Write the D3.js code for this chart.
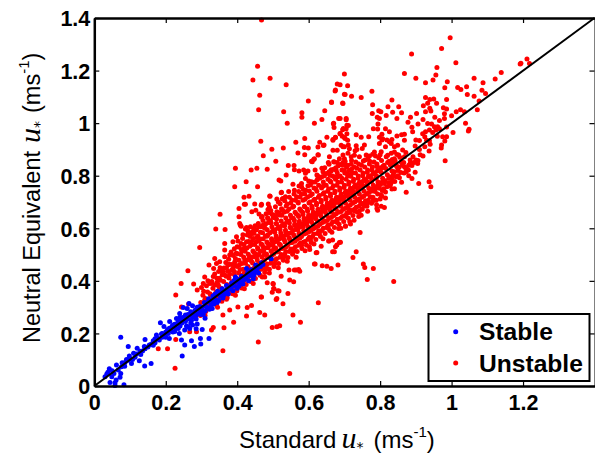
<!DOCTYPE html>
<html>
<head>
<meta charset="utf-8">
<script src="https://d3js.org/d3.v7.min.js"></script>
<style>
body{margin:0;background:#fff;}
text{font-family:"Liberation Sans",Arial,sans-serif;}
.tick text{font-weight:bold;font-size:21.5px;fill:#000;}
</style>
</head>
<body>
<script>
var xTicks = [0,0.2,0.4,0.6,0.8,1,1.2];
var yTicks = [0,0.2,0.4,0.6,0.8,1,1.2,1.4];
var oneToOne = [0,1.4];
var legendNames = ["Stable","Unstable"];

// scattered points, above the line
var unstableUpper = [
[.468,1.392],[.457,1.216],[.444,1.164],[.492,1.171],[.537,1.146],[.463,1.106],[.460,1.051],[.530,1.043],[.581,1.040],[.581,1.022],[.540,1.000],[.599,1.084],[.645,1.047],[.637,1.014],[.616,1.000],[.664,1.080],[.680,1.149],[.675,1.126],[.670,1.000],[.684,1.018],[.671,.983],[.466,.931],[.589,.942],[.564,.927],[.529,.905],[.497,.901],[.599,.905],[.631,.927],[.626,.909],[.643,.917],[.651,.946],[.668,.938],[.675,.946],[.570,.886],[.589,.880],[.473,.876],[.508,.855],[.626,.880],[.614,.862],[.608,.855],[.658,.872],[.670,.853],[.657,.844],[.543,.839],[.559,.839],[.560,.823],[.395,.828],[.439,.822],[.455,.828],[.484,.825],[.573,.818],[.586,.822],[.598,.818],[.591,.809],[.618,.822],[.637,.828],[.640,.815],[.537,.803],[.517,.784],[.522,.780],[.591,.789],[.623,.803],[.393,.758],[.425,.777],[.457,.758],[.556,.768],[.573,.761],[.580,.758],[.607,.777],[.419,.718],[.433,.722],[.492,.722],[.511,.711],[.524,.737],[.526,.711],[.544,.740],
[.996,1.325],[.888,1.263],[.972,1.284],[1.012,1.230],[.959,1.212],[.868,1.189],[.900,1.171],[.956,1.183],[.948,1.164],[.927,1.154],[.988,1.157],[1.063,1.171],[1.088,1.154],[1.122,1.168],[1.139,1.193],[1.192,1.225],[1.194,1.228],[1.211,1.244],[.981,1.135],[1.017,1.136],[1.026,1.128],[1.042,1.138],[1.085,1.125],[1.095,1.113],[1.044,1.109],[1.063,1.102],[.927,1.098],[.939,1.090],[.950,1.092],[.986,1.090],[.958,1.076],[1.077,1.084],[.921,1.066],[.933,1.076],[.939,1.057],[.942,1.046],[.977,1.059],[.986,1.054],[1.013,1.043],[1.025,1.051],[1.036,1.043],[1.000,1.028],[.980,1.036],[.927,1.043],[.902,1.037],[.885,1.022],[.920,1.014],[.953,1.022],[.980,1.018],[.878,1.003],[.906,.997],[.944,.997],[.966,1.010],[.933,.999],[.961,.986],[.927,.967],[.938,.974],[.891,.967],[.956,.974],[.947,.964],[.889,.984],[.868,.958],[.847,.951],[.860,.956],[.910,.934],[.925,.948],[.900,.936],[.898,.913],[.910,.900],
[.700,1.187],[.688,1.146],[.709,1.142],[.777,1.121],[.702,1.109],[.720,1.102],[.747,1.098],[.833,1.088],[.696,1.075],[.779,1.070],[.822,1.062],[.852,1.062],[.796,1.047],[.802,1.043],[.835,1.041],[.860,1.040],[.778,1.037],[.817,1.029],[.792,1.022],[.798,1.018],[.847,1.018],[.705,1.018],[.688,1.018],[.794,.997],[.711,.991],[.697,.980],[.781,.979],[.793,.978],[.815,.979],[.826,.967],[.733,.956],[.747,.946],[.768,.948],[.688,.961],[.702,.942],[.805,.958],[.798,.946],[.805,.936],[.819,.936],[.833,.938],[.798,.923],[.815,.910],[.831,.923],[.840,.910],[.863,.898],[.711,.917],[.733,.914],[.756,.917],[.750,.904],[.735,.900],[.696,.910],[.803,.891],[.779,.882],[.831,.885],[.852,.879],[.868,.872],[.696,.879],[.719,.872],[.761,.879],[.742,.872],
[.352,.653],[.420,.691],[.449,.692],[.468,.691],[.405,.675],[.405,.644],[.340,.597],[.366,.595],[.295,.527],[.262,.438],[.243,.390],[.228,.346],[.278,.388],[.244,.301],[.264,.312],[.365,.542],[.365,.517],[.337,.485],[.321,.460],[.334,.447],[.305,.390],[.309,.415],[.288,.365],[.300,.375],[.323,.390],[.337,.426],[.356,.438],[.342,.466],[.351,.473],[.388,.549],[.409,.612],[.426,.603],[.452,.669],[.442,.580],[.398,.568],[.426,.549],[.412,.517],[.379,.498],[.365,.492],[.374,.460],[.365,.422],
[.423,.691],[.467,.688],[.487,.692],[.491,.723],[.523,.735],[.528,.713],[.486,.671],[.491,.659],[.441,.663],[.461,.654],[.407,.618],[.411,.608],[.437,.606],[.423,.597],[.472,.612],[.486,.637],[.502,.650],[.518,.659],[.509,.618],
[.674,1.122],[.700,1.110],[.664,1.079],[.695,1.077],[.705,1.013],[.669,.998],[.705,.979],[.695,.975],[.688,.960],[.707,.960],[.700,.945],[.675,.945],[.668,.935],[.691,.916],[.700,.910],[.709,.935],[.668,.897],[.680,.897],[.686,.865],[.700,.865],[.672,.852],[.696,.840],[.709,.840],[.663,.823],[.677,.821],[.660,.802],[.672,.795],[.709,.808],[.610,.853],[.616,.865],[.627,.879],[.641,.915],[.588,.907],
[.707,.992],[.694,.950],[.714,.903],[.728,.878],[.784,.890],[.821,.878],[.840,.865],[.849,.916],[.826,.929],[.807,.941],[.868,.935],[.919,.960],[.930,.935],[.952,.986],[.966,.979],[.975,.948]
];

// scattered points, below the line
var unstableLower = [
[1.218,1.227],[1.072,1.051],[1.039,1.000],[1.049,.977],[1.047,.970],[1.004,.964],[.986,.985],[.986,.948],[.981,.932],[.972,.917],[.971,.905],[.938,.933],[.937,.894],[.982,.857],[.906,.858],[.905,.846],[.889,.839],[.884,.846],[.898,.813],[.889,.789],[.908,.770],[.937,.777],[.942,.758],[.873,.737],[.833,.749],[.805,.722],[.800,.711],[.873,.815],[.868,.834],[.847,.834],[.834,.792],[.824,.773],[.791,.675],[.812,.679],[.775,.745],[.761,.694],[.742,.707],
[.744,.584],[.733,.511],[.724,.489],[.753,.464],[.757,.451],[.781,.447],[.764,.405],[.838,.398],[.689,.547],[.703,.608],[.717,.616],[.727,.631],[.742,.666],[.747,.650],[.714,.669],[.793,.669],[.803,.684],[.765,.697],[.751,.692],
[.360,.134],[.547,.048],[.226,.068],[.459,.167],[.577,.243],[.498,.223],[.511,.225],[.519,.229],[.627,.317],[.556,.270],[.477,.270],[.463,.280],[.426,.266],[.390,.243],[.363,.222],[.333,.223],[.328,.213],[.286,.206],[.267,.206],[.228,.177],[.205,.142],[.179,.142],[.402,.301],[.428,.299],[.440,.306],[.468,.339],[.379,.289],[.360,.270],[.528,.313],[.509,.329],[.514,.362],[.502,.371],[.500,.390],[.542,.352],[.565,.441],[.575,.437],[.547,.403],[.558,.397],[.618,.464],[.638,.457],[.663,.447],[.682,.460],[.603,.519],[.621,.507],[.657,.552],[.672,.511],[.679,.536],
[.703,.609],[.684,.599],[.686,.546],[.667,.555],[.656,.552],[.675,.530],[.667,.511],[.635,.532],[.623,.508],[.602,.530],[.616,.464],[.651,.456],[.572,.443],[.560,.441],[.545,.441],[.523,.418],[.501,.388],[.484,.393],[.477,.415],[.503,.370],[.517,.361],[.498,.357],[.467,.339],[.511,.333]
];

// the solid red cloud round the line, read strip by strip
var unstableCore = [
[.297,.268],[.302,.292],[.298,.318],[.304,.345],[.312,.283],[.316,.307],[.311,.333],[.317,.358],[.314,.381],
[.327,.296],[.331,.321],[.326,.346],[.332,.372],[.329,.398],[.333,.417],[.342,.309],[.346,.334],[.341,.358],[.347,.384],[.343,.41],[.348,.436],
[.357,.322],[.361,.347],[.356,.371],[.362,.398],[.358,.423],[.363,.449],[.372,.336],[.376,.361],[.371,.386],[.377,.411],[.373,.437],[.378,.463],[.376,.482],
[.387,.351],[.391,.374],[.386,.398],[.392,.424],[.388,.447],[.393,.472],[.389,.496],[.392,.522],
[.399,.362],[.403,.384],[.398,.41],[.404,.431],[.4,.455],[.405,.478],[.401,.503],[.406,.528],[.402,.552],
[.412,.373],[.416,.397],[.411,.42],[.417,.444],[.413,.466],[.418,.491],[.414,.514],[.419,.538],[.415,.561],
[.425,.386],[.429,.408],[.424,.432],[.43,.455],[.426,.479],[.431,.501],[.427,.525],[.432,.55],[.428,.574],
[.438,.398],[.442,.421],[.437,.444],[.443,.468],[.439,.491],[.444,.514],[.44,.537],[.445,.561],[.441,.585],[.446,.598],
[.451,.409],[.455,.433],[.45,.456],[.456,.479],[.452,.502],[.457,.526],[.453,.549],[.458,.571],[.454,.594],[.459,.618],
[.464,.421],[.468,.444],[.463,.467],[.469,.491],[.465,.513],[.47,.537],[.466,.559],[.471,.583],[.467,.606],[.472,.63],[.468,.642],
[.477,.432],[.481,.456],[.476,.479],[.482,.502],[.478,.525],[.483,.548],[.479,.571],[.484,.594],[.48,.617],[.485,.64],[.481,.655],
[.49,.444],[.494,.467],[.489,.49],[.495,.513],[.491,.537],[.496,.56],[.492,.583],[.497,.606],[.493,.629],[.498,.652],[.494,.668],
[.503,.455],[.507,.479],[.502,.502],[.508,.525],[.504,.548],[.509,.571],[.505,.594],[.51,.617],[.506,.64],[.511,.663],[.507,.682],
[.516,.466],[.52,.49],[.515,.513],[.521,.536],[.517,.559],[.522,.582],[.518,.605],[.523,.628],[.519,.651],[.524,.674],[.52,.693],
[.529,.478],[.533,.501],[.528,.524],[.534,.548],[.53,.57],[.535,.593],[.531,.616],[.536,.639],[.532,.662],[.537,.685],[.533,.705],
[.542,.489],[.546,.512],[.541,.535],[.547,.558],[.543,.581],[.548,.604],[.544,.627],[.549,.65],[.545,.673],[.55,.696],[.546,.718],
[.555,.501],[.559,.523],[.554,.546],[.56,.57],[.556,.592],[.561,.615],[.557,.638],[.562,.661],[.558,.684],[.563,.707],[.559,.73],
[.568,.512],[.572,.535],[.567,.558],[.573,.581],[.569,.604],[.574,.627],[.57,.65],[.575,.673],[.571,.696],[.576,.719],[.572,.74],
[.581,.523],[.585,.547],[.58,.569],[.586,.592],[.582,.615],[.587,.638],[.583,.661],[.588,.684],[.584,.707],[.589,.73],[.585,.748],
[.594,.535],[.598,.558],[.593,.581],[.599,.604],[.595,.627],[.6,.65],[.596,.673],[.601,.696],[.597,.719],[.602,.742],[.598,.762],
[.607,.546],[.611,.569],[.606,.592],[.612,.615],[.608,.638],[.613,.661],[.609,.684],[.614,.707],[.61,.73],[.615,.753],[.611,.775],
[.62,.557],[.624,.58],[.619,.603],[.625,.627],[.621,.649],[.626,.672],[.622,.695],[.627,.718],[.623,.741],[.628,.764],[.624,.785],
[.633,.569],[.637,.592],[.632,.615],[.638,.638],[.634,.661],[.639,.684],[.635,.707],[.64,.73],[.636,.753],[.641,.776],[.637,.796],
[.646,.58],[.65,.603],[.645,.626],[.651,.649],[.647,.672],[.652,.695],[.648,.718],[.653,.741],[.649,.764],[.654,.787],[.65,.808],
[.659,.592],[.663,.615],[.658,.638],[.664,.661],[.66,.684],[.665,.707],[.661,.73],[.666,.753],[.662,.776],[.667,.799],[.663,.818],
[.672,.603],[.676,.626],[.671,.649],[.677,.672],[.673,.695],[.678,.718],[.674,.741],[.679,.764],[.675,.787],[.68,.81],[.676,.83],
[.685,.615],[.689,.638],[.684,.661],[.69,.684],[.686,.707],[.691,.73],[.687,.753],[.692,.776],[.688,.799],[.693,.822],[.689,.843],
[.698,.626],[.702,.649],[.697,.672],[.703,.695],[.699,.718],[.704,.741],[.7,.764],[.705,.787],[.701,.81],[.706,.833],[.702,.855],
[.711,.638],[.715,.66],[.71,.683],[.716,.707],[.712,.729],[.717,.752],[.713,.775],[.718,.798],[.714,.821],[.719,.844],
[.724,.649],[.728,.672],[.723,.695],[.729,.718],[.725,.741],[.73,.764],[.726,.787],[.731,.81],[.727,.833],[.732,.852],
[.737,.661],[.741,.684],[.736,.707],[.742,.73],[.738,.753],[.743,.776],[.739,.799],[.744,.822],[.74,.845],
[.75,.672],[.754,.695],[.749,.718],[.755,.741],[.751,.764],[.756,.787],[.752,.81],[.757,.833],[.753,.856],
[.763,.684],[.767,.707],[.762,.73],[.768,.753],[.764,.776],[.769,.799],[.765,.822],[.77,.845],[.766,.865],
[.776,.695],[.78,.718],[.775,.741],[.781,.764],[.777,.787],[.782,.81],[.778,.833],[.783,.852],
[.789,.707],[.793,.73],[.788,.753],[.794,.776],[.79,.799],[.795,.822],[.791,.845],[.796,.868],
[.802,.728],[.806,.744],[.801,.767],[.807,.79],[.803,.813],[.808,.836],[.804,.858],
[.815,.738],[.819,.758],[.814,.781],[.82,.804],[.816,.827],[.821,.85],[.817,.872],
[.828,.762],[.832,.777],[.827,.796],[.833,.818],[.829,.84],[.834,.862],
[.841,.778],[.845,.796],[.84,.815],[.846,.838],[.842,.857],[.847,.881],
[.854,.792],[.858,.812],[.853,.832],[.859,.852],[.855,.87],
[.867,.81],[.871,.83],[.866,.85],[.872,.888],[.88,.84],[.884,.86],[.879,.822],[.892,.872],[.9,.86],[.912,.88],[.925,.91]
];

// second pass over the cloud, filling the gaps the first pass left
var unstableFill = [
[.305,.282],[.309,.327],[.322,.302],[.324,.351],[.336,.315],[.339,.384],[.351,.33],[.353,.402],[.366,.343],[.369,.418],[.381,.358],[.384,.44],[.383,.381],[.396,.372],[.394,.459],[.397,.505],[.409,.392],[.408,.443],[.411,.542],[.421,.404],[.423,.467],[.422,.513],[.434,.418],[.436,.479],[.435,.532],[.436,.569],
[.447,.426],[.448,.492],[.449,.538],[.447,.581],[.459,.44],[.461,.5],[.46,.552],[.462,.606],[.472,.45],[.474,.514],[.473,.56],[.476,.602],[.484,.464],[.487,.526],[.486,.575],[.488,.622],[.496,.478],[.5,.535],[.499,.59],[.501,.641],
[.51,.484],[.512,.55],[.513,.6],[.514,.652],[.523,.5],[.526,.562],[.525,.611],[.527,.67],[.536,.512],[.538,.575],[.539,.625],[.54,.692],[.55,.521],[.551,.583],[.552,.64],[.553,.708],[.563,.53],[.564,.595],[.565,.655],[.566,.72],
[.576,.543],[.577,.606],[.578,.668],[.579,.73],[.59,.55],[.591,.617],[.589,.682],[.592,.745],[.602,.566],[.603,.63],[.604,.7],[.605,.765],[.614,.578],[.616,.642],[.617,.71],[.618,.776],[.628,.59],[.629,.655],[.63,.725],[.631,.79],
[.641,.6],[.642,.668],[.643,.735],[.644,.8],[.654,.612],[.655,.678],[.656,.75],[.657,.815],[.667,.624],[.668,.69],[.669,.762],[.67,.825],[.68,.634],[.681,.702],[.682,.775],[.683,.838],[.694,.645],[.695,.715],[.693,.79],[.696,.85],
[.707,.658],[.708,.728],[.709,.8],[.705,.84],[.72,.668],[.721,.74],[.722,.81],[.72,.858],[.733,.68],[.734,.755],[.735,.828],[.746,.695],[.747,.765],[.748,.84],[.759,.705],[.76,.782],[.758,.86],[.772,.72],[.773,.795],[.771,.855],[.786,.74],[.785,.81],[.787,.875],[.798,.752],[.799,.83],[.812,.77],[.811,.84],[.824,.79],[.825,.855],[.837,.805],[.836,.85],[.85,.82],[.862,.84],
[.306,.36],[.318,.4],[.33,.39],[.344,.395],[.352,.45],[.368,.47],[.383,.51],[.4,.53],[.416,.575],[.432,.575],[.43,.59],[.45,.61],[.47,.645],[.49,.68],[.515,.7],[.535,.72],[.56,.745],[.58,.77],[.6,.78],[.625,.8],[.645,.83],[.655,.85],[.68,.85],[.71,.885],[.73,.895],[.77,.875],[.8,.88],[.84,.89],
[.31,.268],[.345,.3],[.37,.33],[.395,.345],[.42,.37],[.445,.39],[.47,.415],[.49,.43],[.515,.45],[.54,.475],[.565,.49],[.59,.515],[.615,.54],[.64,.56],[.665,.585],[.69,.6],[.715,.625],[.74,.645],[.765,.665],[.79,.69],[.815,.715],[.84,.75],[.86,.775],[.88,.8]
];

// third pass, the thickest part of the cloud just above the line
var unstableThick = [
[.335,.331],[.349,.378],[.364,.362],[.379,.425],[.394,.389],[.392,.436],[.407,.407],[.406,.461],[.419,.429],[.421,.479],[.433,.437],[.434,.492],[.446,.447],[.447,.508],[.46,.466],[.458,.521],[.471,.472],[.473,.528],[.485,.49],[.486,.541],[.498,.498],[.497,.553],[.511,.51],[.509,.563],[.524,.523],[.523,.571],[.537,.53],[.536,.584],[.549,.545],[.55,.601],[.562,.551],[.561,.611],[.575,.562],[.573,.618],[.587,.578],[.588,.629],[.6,.586],[.599,.641],[.613,.598],[.611,.652],[.626,.608],[.624,.66],[.639,.622],[.637,.678],[.652,.63],[.65,.685],[.664,.642],[.662,.699],[.677,.655],[.676,.711],[.691,.664],[.689,.722],[.703,.676],[.702,.735],[.716,.688],[.714,.744],[.729,.7],[.728,.758],[.741,.711],[.74,.77],[.754,.722],[.753,.78],[.768,.736],[.766,.795],[.78,.75],[.779,.806],[.793,.762],[.792,.818],[.805,.775],[.806,.83],
[.44,.475],[.455,.495],[.467,.54],[.476,.5],[.483,.57],[.502,.521],[.505,.585],[.518,.54],[.52,.595],[.532,.555],[.533,.61],[.545,.565],[.546,.62],[.558,.575],[.56,.63],[.57,.595],[.572,.645],[.585,.607],[.584,.652],[.595,.618],[.597,.665],[.608,.625],[.61,.675],[.62,.636],[.622,.69],[.634,.648],[.635,.7],[.647,.66],[.648,.71],[.66,.67],[.661,.722],[.672,.68],[.673,.735],[.686,.695],[.687,.745],[.698,.705],[.699,.755],[.711,.72],[.712,.768],[.724,.73],[.725,.778],[.737,.74],[.738,.79],[.75,.755],[.751,.8],[.763,.765],[.764,.812],[.776,.778],[.777,.822],[.789,.79],[.79,.835],
[.48,.445],[.505,.465],[.53,.49],[.556,.512],[.58,.535],[.605,.556],[.63,.58],[.655,.6],[.68,.622],[.705,.645],[.73,.665],[.755,.685],[.78,.705],[.81,.75],[.83,.77],[.85,.8],[.875,.825],[.895,.85],[.92,.875],[.94,.92],[.96,.95],
[.35,.41],[.36,.435],[.37,.45],[.385,.462],[.395,.485],[.41,.5],[.42,.525],[.44,.55],[.455,.565],[.465,.585],[.478,.6],[.495,.62],[.51,.635],[.525,.65],[.54,.665],[.555,.68],[.57,.7],[.59,.71],[.605,.725],[.62,.75],[.64,.76],[.66,.78],[.68,.795],[.7,.82],[.72,.825]
];

// stable points, all hugging the line
var stable = [
[.074,.185],[.058,.002],[.058,.012],[.083,.005],[.044,.013],[.030,.035],[.035,.046],[.042,.066],[.049,.035],[.055,.048],[.067,.061],[.074,.048],[.072,.033],[.061,.023],[.062,.080],[.076,.073],[.086,.089],[.090,.101],[.098,.114],[.095,.150],[.107,.101],[.104,.086],[.114,.109],[.126,.096],[.141,.076],[.159,.086],[.120,.144],[.135,.133],[.142,.142],[.142,.177],[.154,.156],[.160,.160],[.170,.165],[.174,.194],[.179,.181],[.188,.198],[.198,.190],[.185,.241],[.195,.226],[.211,.245],[.221,.232],[.207,.200],[.210,.181],[.246,.114],[.244,.175],[.253,.156],[.272,.172],[.280,.150],[.297,.181],[.298,.160],[.321,.181],[.302,.215],[.288,.236],[.249,.299],[.265,.314],[.260,.295],[.239,.276],[.230,.257],[.244,.251],[.267,.270],[.267,.219],[.253,.213],[.235,.219],[.225,.207],
[.495,.484],[.468,.469],[.452,.460],[.447,.422],[.426,.447],[.395,.415],
[.038,.052],[.05,.058],[.078,.088],[.095,.098],[.118,.122],[.128,.132],[.15,.148],[.165,.172],[.182,.175],[.19,.185],[.2,.205],[.205,.215],[.215,.21],[.218,.228],[.228,.22],[.232,.238],[.24,.228],[.245,.24],[.25,.262],[.255,.245],[.258,.228],[.262,.255],[.27,.282],[.272,.25],[.278,.268],[.282,.288],[.285,.255],[.29,.275],[.295,.302],[.298,.272],[.302,.288],[.308,.318],[.31,.285],[.315,.3],[.32,.332],[.322,.292],[.328,.31],[.332,.342],[.335,.312],[.34,.328],[.345,.36],[.348,.325],[.352,.342],[.358,.37],[.36,.335],[.365,.352],[.37,.382],[.375,.35],[.378,.368],[.384,.392],[.388,.362],[.392,.382],[.398,.398],[.4,.372],[.408,.39],[.412,.418],[.416,.388],[.42,.405],[.428,.425],[.432,.4],[.436,.42],[.44,.442],[.445,.408],[.45,.435],[.458,.452],[.46,.43],[.465,.455],[.472,.462],
[.21,.22],[.225,.235],[.235,.245],[.25,.25],[.262,.272],[.275,.262],[.288,.3],[.3,.3],[.305,.272],[.318,.32],[.325,.3],[.338,.35],[.344,.318],[.355,.358],[.362,.345],[.372,.37],[.382,.375],[.392,.402],[.404,.405],[.415,.402],[.425,.412],[.438,.432],[.455,.442],[.27,.24],[.285,.27],[.255,.27],[.24,.262],[.295,.285],[.31,.305],[.33,.325],[.35,.35],[.37,.36],[.385,.38],[.405,.38],[.43,.432],[.14,.15],[.11,.125],[.085,.075],[.1,.105],[.13,.12],[.165,.155],[.17,.18],[.19,.2],[.2,.185],[.22,.205],[.238,.2],[.262,.225],[.275,.232],[.285,.218],[.31,.258],[.33,.295],[.275,.305]
];

var w = 595;
var h = 454;

var xScale = d3.scaleLinear().domain([0,1.4]).range([94.3,594.5]);
var yScale = d3.scaleLinear().domain([0,1.4]).range([386,18]);

var svg = d3.select("body").append("svg")
    .attr("width",w)
    .attr("height",h)
    .style("display","block");

function drawDots(data,color){
    svg.append("g").selectAll("circle")
        .data(data)
        .enter()
        .append("circle")
        .attr("cx",function(d){return xScale(d[0]);})
        .attr("cy",function(d){return yScale(d[1]);})
        .attr("r",2.5)
        .attr("fill",color);
}
drawDots(unstableUpper,"#ff0000");
drawDots(unstableLower,"#ff0000");
drawDots(unstableCore,"#ff0000");
drawDots(unstableFill,"#ff0000");
drawDots(unstableThick,"#ff0000");
drawDots(stable,"#0000ff");

var line = d3.line().x(function(d){return xScale(d);}).y(function(d){return yScale(d);});
svg.append("path")
    .attr("d",line(oneToOne))
    .attr("fill","none")
    .attr("stroke","#000")
    .attr("stroke-width",2);

function fmt(d){return d3.format("~g")(d);}

var bottom = svg.append("g").attr("transform","translate(0,386)")
    .call(d3.axisBottom(xScale).tickValues(xTicks).tickSize(-5).tickSizeOuter(0).tickPadding(9).tickFormat(fmt));
var left = svg.append("g").attr("transform","translate(94.3,0)")
    .call(d3.axisLeft(yScale).tickValues(yTicks).tickSize(-5).tickSizeOuter(0).tickPadding(4).tickFormat(fmt));
var top_ = svg.append("g").attr("transform","translate(0,18)")
    .call(d3.axisTop(xScale).tickValues(xTicks).tickSize(-5).tickSizeOuter(0).tickFormat(""));
var right = svg.append("g").attr("transform","translate(594.5,0)")
    .call(d3.axisRight(yScale).tickValues(yTicks).tickSize(-5).tickSizeOuter(0).tickFormat(""));

bottom.select(".domain").attr("stroke-width",2.5);
left.select(".domain").attr("stroke-width",2.5);
top_.select(".domain").attr("stroke-width",2.5);
right.select(".domain").attr("stroke-width",1);
svg.selectAll(".tick line").attr("stroke-width",1.2);
bottom.selectAll(".tick text").attr("dy","0.71em");
left.selectAll(".tick text").attr("dy","0.36em");

// axis titles: u* (ms^-1)
function ustar(t,gap,lead){
    t.append("tspan").text("u").attr("font-family","'Liberation Serif',serif").attr("font-style","italic").attr("font-size","30px").attr("dx",lead);
    t.append("tspan").text("*").attr("font-family","'DejaVu Sans',sans-serif").attr("font-size","14px").attr("dy",4);
    t.append("tspan").text("(ms").attr("dy",-4).attr("dx",gap);
    t.append("tspan").text("-1").attr("font-size","15px").attr("dy",-11);
    t.append("tspan").text(")").attr("dy",11);
}
var xLabel = svg.append("text").attr("x",239).attr("y",448).attr("font-size","24px").attr("fill","#000");
xLabel.append("tspan").text("Standard");
ustar(xLabel,10,5);

var yLabel = svg.append("text").attr("transform","translate(40,343) rotate(-90)").attr("font-size","23.5px").attr("fill","#000");
yLabel.append("tspan").text("Neutral Equivalent");
ustar(yLabel,8,8);

// legend
var legend = svg.append("g");
legend.append("rect").attr("x",428.5).attr("y",314).attr("width",161).attr("height",67)
    .attr("fill","#fff").attr("stroke","#000").attr("stroke-width",2);
legend.selectAll("circle").data(legendNames).enter().append("circle")
    .attr("cx",455.7)
    .attr("cy",function(d,i){return 331.7+i*31.3;})
    .attr("r",2.5)
    .attr("fill",function(d,i){return i==0?"#0000ff":"#ff0000";});
legend.selectAll("text").data(legendNames).enter().append("text")
    .attr("x",479)
    .attr("y",function(d,i){return 340+i*31.5;})
    .attr("font-size","24.6px")
    .attr("font-weight","bold")
    .attr("fill","#000")
    .text(function(d){return d;});
</script>
</body>
</html>
